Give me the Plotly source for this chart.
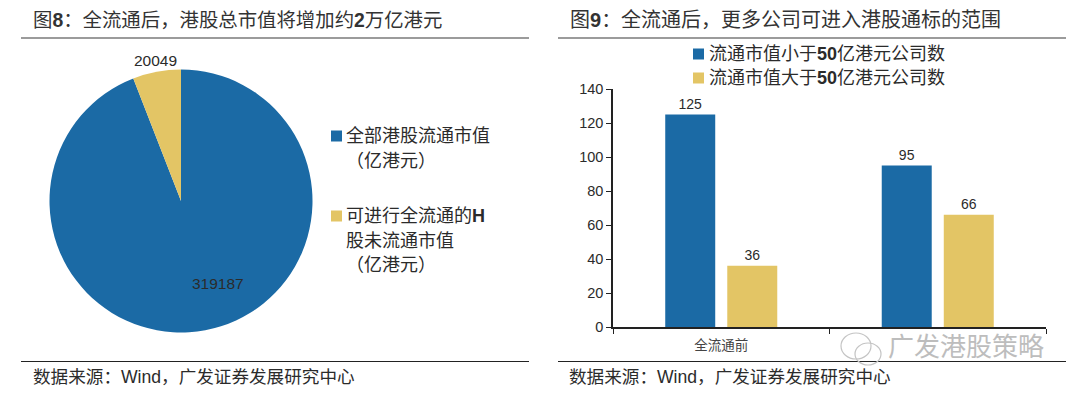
import plotly.graph_objects as go

W, H = 1080, 395
CJK = "Noto Sans CJK SC"
LAT = "Liberation Sans"
BLUE = "#1B6AA5"
GOLD = "#E3C565"
INK = "#2b2b2b"

# Data
pie_names = ["全部港股流通市值<br>\uff08亿港元\uff09", "可进行全流通的<b>H</b><br>股未流通市值<br>\uff08亿港元\uff09"]
pie_values = [319187, 20049]
bar_categories = ["全流通前", " "]
bar_series_names = ["流通市值小于<b>50</b>亿港元公司数", "流通市值大于<b>50</b>亿港元公司数"]
small_caps = [125, 95]
large_caps = [36, 66]
y_ticks = [0, 20, 40, 60, 80, 100, 120, 140]
title_left = "图<b>8</b>\uff1a全流通后\uff0c港股总市值将增加约<b>2</b>万亿港元"
title_right = "图<b>9</b>\uff1a全流通后\uff0c更多公司可进入港股通标的范围"
source_text = "数据来源\uff1aWind\uff0c广发证券发展研究中心"
watermark = "广发港股策略"


def fx(p):
    return p / W


def fy(p):
    return 1 - p / H


fig = go.Figure()

fig.add_trace(go.Pie(
    labels=pie_names, values=pie_values, sort=False, direction="clockwise", rotation=0,
    marker=dict(colors=[BLUE, GOLD], line=dict(width=0)), textinfo="none", hoverinfo="label+value",
    domain=dict(x=[fx(49.5), fx(312.5)], y=[fy(332.5), fy(69.5)]), showlegend=False,
))

for name, vals, color in zip(bar_series_names, [small_caps, large_caps], [BLUE, GOLD]):
    fig.add_trace(go.Bar(
        x=bar_categories, y=vals, name=name, marker=dict(color=color, line=dict(width=0)),
        text=vals, textposition="outside", cliponaxis=False,
        textfont=dict(family=LAT, size=14, color=INK), showlegend=False,
    ))

annotations = []
shapes = []


def note(text, x, y, size, anchor="left", color=INK, family=f"{LAT}, {CJK}"):
    annotations.append(dict(text=text, x=fx(x), y=fy(y), xref="paper", yref="paper", showarrow=False,
                            xanchor=anchor, yanchor="middle", align=anchor,
                            font=dict(family=family, size=size, color=color)))


def swatch(x0, y, size, color):
    shapes.append(dict(type="rect", xref="paper", yref="paper", x0=fx(x0), x1=fx(x0 + size),
                       y0=fy(y + size / 2), y1=fy(y - size / 2), fillcolor=color, line=dict(width=0)))


note(title_left, 31, 20, 19.4, color="#333333")
note(title_right, 568, 20, 20, color="#333333")
note(source_text, 31, 377, 17.6)
note(source_text, 567, 377, 17.6)
note(str(pie_values[1]), 155, 61, 15.5, "center", family=LAT)
note(str(pie_values[0]), 218, 283, 15.5, "center", family=LAT)
note(watermark, 966, 347, 26, "center", color="#bdbdbd")

# Legend of the pie: line pitch of the original is wider than a Plotly legend allows
for name, color, y0 in zip(pie_names, [BLUE, GOLD], [136, 216]):
    swatch(331, y0, 11, color)
    for i, line in enumerate(name.split("<br>")):
        note(line, 344, y0 + i * 24.7, 18)

# Legend of the bars
for name, color, y0 in zip(bar_series_names, [BLUE, GOLD], [54, 78]):
    swatch(693, y0, 11, color)
    note(name, 707, y0, 18)

for x0, x1 in [(21, 529), (558, 1066)]:
    shapes.append(dict(type="line", xref="paper", yref="paper", x0=fx(x0), x1=fx(x1), y0=fy(38), y1=fy(38),
                       line=dict(color="#7a7a7a", width=1.5)))
    shapes.append(dict(type="line", xref="paper", yref="paper", x0=fx(x0), x1=fx(x1), y0=fy(361.5), y1=fy(361.5),
                       line=dict(color="#222222", width=1)))
for cx, cy, rx, ry in [(856, 346, 15, 13), (868, 354, 13, 11)]:
    shapes.append(dict(type="circle", xref="paper", yref="paper", x0=fx(cx - rx), x1=fx(cx + rx),
                       y0=fy(cy + ry), y1=fy(cy - ry), line=dict(color="#c4c4c4", width=1.2)))

fig.update_layout(
    width=W, height=H, margin=dict(l=0, r=0, t=0, b=0, autoexpand=False),
    paper_bgcolor="white", plot_bgcolor="white", barmode="group", bargap=0.427, bargroupgap=0.194,
    font=dict(family=f"{LAT}, {CJK}", color=INK), showlegend=False,
    annotations=annotations, shapes=shapes,
    xaxis=dict(domain=[fx(613), fx(1046)], anchor="y", type="category", tickson="boundaries", ticks="outside",
               ticklen=5, tickcolor="#222", showline=True, linecolor="#222", linewidth=1.5, showgrid=False,
               tickfont=dict(family=CJK, size=13.5, color="#444"), ticklabelstandoff=5, fixedrange=True),
    yaxis=dict(domain=[fy(327), fy(89)], anchor="x", range=[0, 140], tickvals=y_ticks, ticks="outside",
               ticklen=5, tickcolor="#222", showline=True, linecolor="#222", linewidth=1.5, showgrid=False,
               zeroline=False, tickfont=dict(family=LAT, size=14.5, color=INK), fixedrange=True),
)

fig.write_html("out.html", config=dict(displayModeBar=False),
               post_script="document.body.style.margin='0';document.body.style.overflow='hidden';")
